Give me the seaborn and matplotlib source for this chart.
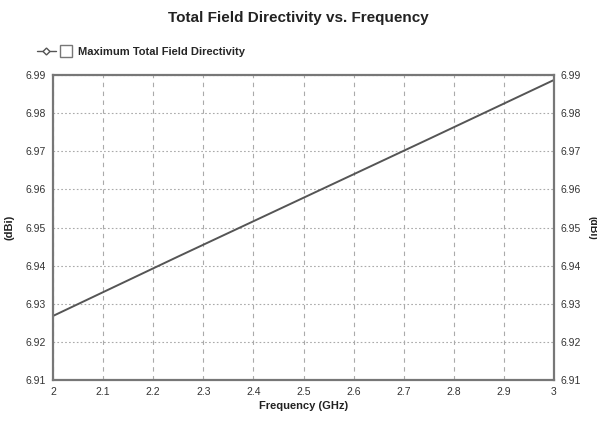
import numpy as np
import pandas as pd
import matplotlib
matplotlib.use("Agg")
import matplotlib.pyplot as plt
import seaborn as sns
from matplotlib.lines import Line2D
from matplotlib.legend_handler import HandlerTuple

# data
freq_ghz = [2.0, 2.25, 2.5, 2.75, 3.0]
directivity_dbi = [6.9268, 6.9424, 6.9578, 6.9732, 6.9887]
x_ticks = [2, 2.1, 2.2, 2.3, 2.4, 2.5, 2.6, 2.7, 2.8, 2.9, 3]
x_labels = ["2", "2.1", "2.2", "2.3", "2.4", "2.5", "2.6", "2.7", "2.8", "2.9", "3"]
y_ticks = [6.91, 6.92, 6.93, 6.94, 6.95, 6.96, 6.97, 6.98, 6.99]

df = pd.DataFrame({"freq": freq_ghz, "dir": directivity_dbi})

sns.set_style("white")
plt.rcParams["font.family"] = ["Liberation Sans Narrow", "Liberation Sans", "DejaVu Sans"]

fig = plt.figure(figsize=(5.97, 4.23), dpi=100)
ax = fig.add_axes([53 / 597, 1 - 380 / 423, (554 - 53) / 597, (380 - 75) / 423])

sns.lineplot(data=df, x="freq", y="dir", ax=ax, color="#555555", linewidth=1.4)

ax.set_xlim(2, 3)
ax.set_ylim(6.91, 6.99)
ax.set_xticks(x_ticks)
ax.set_xticklabels(x_labels)
ax.set_yticks(y_ticks)
ax.set_yticklabels([f"{v:.2f}" for v in y_ticks])
ax.xaxis.grid(True, color="#aaaaaa", linestyle=(0, (4, 4)), linewidth=0.8)
ax.yaxis.grid(True, color="#aaaaaa", linestyle=(0, (1.5, 2)), linewidth=0.8)
for s in ax.spines.values():
    s.set_color("#777777")
    s.set_linewidth(1.6)
ax.tick_params(axis="both", labelsize=7.5, colors="#333333", length=0, pad=5)

ax2 = ax.twinx()
ax2.set_ylim(6.91, 6.99)
ax2.set_yticks(y_ticks)
ax2.set_yticklabels([f"{v:.2f}" for v in y_ticks])
ax2.tick_params(axis="y", labelsize=7.5, colors="#333333", length=0, pad=5)
for s in ax2.spines.values():
    s.set_visible(False)

ax.set_xlabel("Frequency (GHz)", fontsize=8, fontweight="bold", color="#222222", labelpad=3)
ax.set_ylabel("(dBi)", fontsize=8, fontweight="bold", color="#222222", labelpad=8)
ax2.set_ylabel("(dBi)", fontsize=7.5, fontweight="bold", color="#222222", rotation=-90,
               va="center")
ax2.yaxis.set_label_coords(1.076, 0.5)

fig.text(0.5, 0.957, "Total Field Directivity vs. Frequency", ha="center", va="center",
         fontsize=11, fontweight="bold", color="#222222")

line_h = Line2D([], [], color="#555555", marker="D", markersize=3.5,
                markerfacecolor="white", markeredgecolor="#555555", linewidth=1.0)
box_h = Line2D([], [], linestyle="none", marker="s", markersize=8,
               markerfacecolor="white", markeredgecolor="#777777")
fig.legend([(line_h, box_h)], ["Maximum Total Field Directivity"],
           handler_map={tuple: HandlerTuple(ndivide=None, pad=0.1)},
           loc="center left", bbox_to_anchor=(0.045, 0.877), frameon=False,
           handlelength=3.5, handletextpad=0.2,
           prop={"weight": "bold", "size": 8})

fig.savefig("out.png", dpi=100)
